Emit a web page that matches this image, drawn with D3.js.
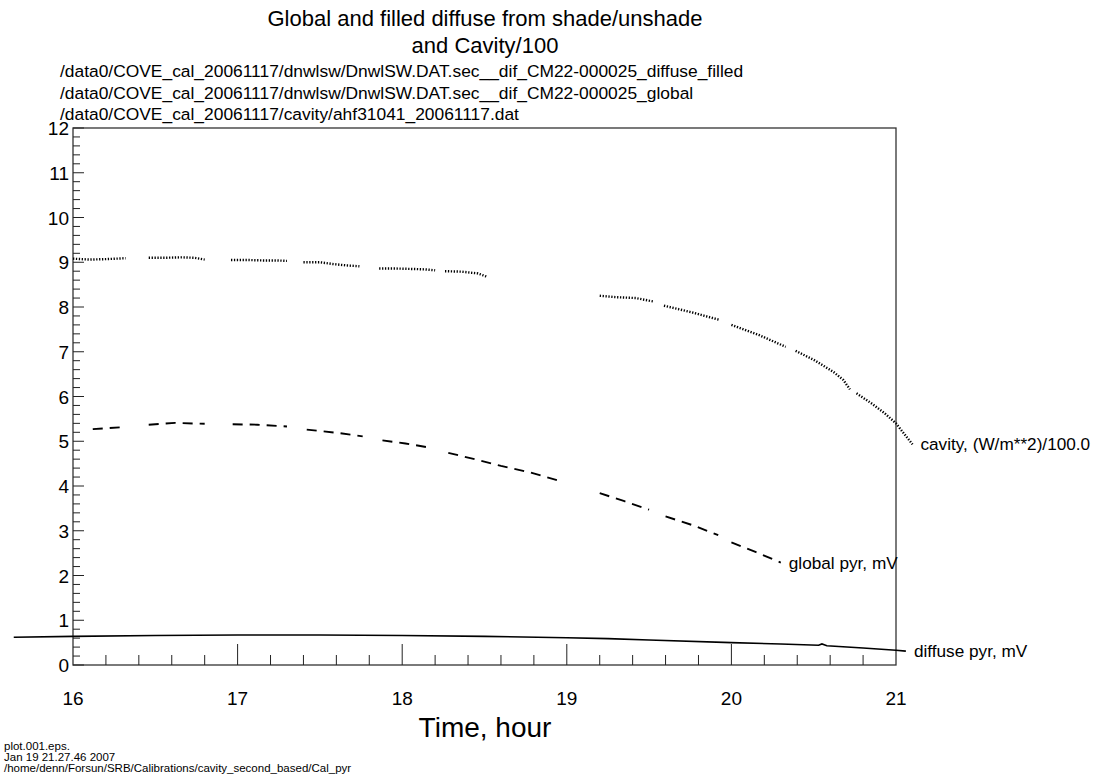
<!DOCTYPE html>
<html>
<head>
<meta charset="utf-8">
<script src="https://d3js.org/d3.v7.min.js"></script>
<style>
  body { margin: 0; background: #fff; }
  svg text { font-family: "Liberation Sans", Arial, Helvetica, sans-serif; fill: #000; }
</style>
</head>
<body>
<svg id="chart"></svg>
<script>
// hours and values, null marks a gap in the record
var cavityHours = [16.0, 16.1, 16.2, 16.32, null,
    16.46, 16.56, 16.66, 16.74, 16.8, null,
    16.96, 17.06, 17.16, 17.24, 17.3, null,
    17.4, 17.5, 17.58, 17.66, 17.74, null,
    17.86, 17.96, 18.06, 18.14, 18.2, null,
    18.26, 18.36, 18.46, 18.52, null,
    19.2, 19.3, 19.42, 19.53, null,
    19.59, 19.76, 19.93, null,
    20.0, 20.17, 20.33, null,
    20.39, 20.5, 20.62, 20.68, 20.72, null,
    20.76, 20.85, 20.93, 21.0, 21.1];
var cavityValues = [9.08, 9.06, 9.07, 9.09, null,
    9.1, 9.1, 9.11, 9.1, 9.06, null,
    9.05, 9.05, 9.04, 9.04, 9.03, null,
    9.0, 9.0, 8.96, 8.93, 8.91, null,
    8.86, 8.86, 8.85, 8.84, 8.82, null,
    8.8, 8.79, 8.75, 8.67, null,
    8.25, 8.22, 8.2, 8.12, null,
    8.03, 7.88, 7.71, null,
    7.6, 7.37, 7.11, null,
    7.02, 6.82, 6.55, 6.37, 6.16, null,
    6.07, 5.85, 5.63, 5.4, 4.93];

var globalHours = [16.12, 16.32, null,
    16.46, 16.62, 16.8, null,
    16.97, 17.12, 17.3, null,
    17.42, 17.6, 17.76, null,
    17.88, 18.02, 18.18, null,
    18.28, 18.44, 18.6, 18.78, 18.95, null,
    19.2, 19.35, 19.5, null,
    19.6, 19.76, 19.92, null,
    20.0, 20.15, 20.3];
var globalValues = [5.27, 5.32, null,
    5.37, 5.41, 5.39, null,
    5.38, 5.37, 5.33, null,
    5.26, 5.19, 5.11, null,
    5.02, 4.95, 4.85, null,
    4.74, 4.6, 4.45, 4.3, 4.12, null,
    3.84, 3.66, 3.47, null,
    3.32, 3.13, 2.9, null,
    2.74, 2.52, 2.29];

var diffuseHours = [15.64, 16.0, 16.5, 17.0, 17.5, 18.0, 18.5, 19.0, 19.25, 19.5,
    20.0, 20.3, 20.53, 20.55, 20.58, 20.8, 21.0, 21.06];
var diffuseValues = [0.62, 0.64, 0.66, 0.67, 0.67, 0.66, 0.64, 0.61, 0.59, 0.56,
    0.5, 0.47, 0.44, 0.47, 0.43, 0.38, 0.33, 0.31];

var xTicks = [16, 17, 18, 19, 20, 21];
var yTicks = [0, 1, 2, 3, 4, 5, 6, 7, 8, 9, 10, 11, 12];

var titleLines = ["Global and filled diffuse from shade/unshade", "and Cavity/100"];
var fileLines = ["/data0/COVE_cal_20061117/dnwlsw/DnwlSW.DAT.sec__dif_CM22-000025_diffuse_filled",
    "/data0/COVE_cal_20061117/dnwlsw/DnwlSW.DAT.sec__dif_CM22-000025_global",
    "/data0/COVE_cal_20061117/cavity/ahf31041_20061117.dat"];
var footLines = ["plot.001.eps.", "Jan 19 21.27.46 2007",
    "/home/denn/Forsun/SRB/Calibrations/cavity_second_based/Cal_pyr"];

var svgWidth = 1103;
var svgHeight = 782;
var plotLeft = 73, plotRight = 896, plotTop = 128, plotBottom = 665;

var svg = d3.select('#chart')
    .attr("width", svgWidth)
    .attr("height", svgHeight);

var x = d3.scaleLinear().domain([16, 21]).range([plotLeft, plotRight]);
var y = d3.scaleLinear().domain([0, 12]).range([plotBottom, plotTop]);

// titles
svg.selectAll("text.title")
    .data(titleLines)
    .enter()
    .append("text")
    .attr("class", "title")
    .attr("x", 485)
    .attr("y", function(d, i) { return 26 + i * 27; })
    .attr("text-anchor", "middle")
    .style("font-size", "22px")
    .text(function(d) { return d; });

svg.selectAll("text.file")
    .data(fileLines)
    .enter()
    .append("text")
    .attr("class", "file")
    .attr("x", 60)
    .attr("y", function(d, i) { return 77 + i * 21.5; })
    .style("font-size", "17.4px")
    .text(function(d) { return d; });

// frame
svg.append("rect")
    .attr("x", plotLeft)
    .attr("y", plotTop)
    .attr("width", plotRight - plotLeft)
    .attr("height", plotBottom - plotTop)
    .attr("fill", "none")
    .attr("stroke", "#333")
    .attr("stroke-width", 1.3);

// y ticks, pointing inward
var yMinor = d3.range(0, 12.001, 0.2);
svg.selectAll("line.ytick")
    .data(yMinor)
    .enter()
    .append("line")
    .attr("class", "ytick")
    .attr("x1", plotLeft)
    .attr("x2", function(d) {
        return Math.abs(d - Math.round(d)) < 0.01 ? plotLeft + 11 : plotLeft + 7;
    })
    .attr("y1", function(d) { return y(d); })
    .attr("y2", function(d) { return y(d); })
    .attr("stroke", "#222")
    .attr("stroke-width", 1);

svg.selectAll("text.ylab")
    .data(yTicks)
    .enter()
    .append("text")
    .attr("class", "ylab")
    .attr("x", plotLeft - 4)
    .attr("y", function(d) { return y(d) + 7; })
    .attr("text-anchor", "end")
    .style("font-size", "19px")
    .text(function(d) { return d; });

// x ticks, pointing up from the bottom
var xMinor = d3.range(16.2, 20.9, 0.2);
svg.selectAll("line.xtick")
    .data(xMinor)
    .enter()
    .append("line")
    .attr("class", "xtick")
    .attr("x1", function(d) { return x(d); })
    .attr("x2", function(d) { return x(d); })
    .attr("y1", plotBottom)
    .attr("y2", function(d) {
        return Math.abs(d - Math.round(d)) < 0.01 ? plotBottom - 21 : plotBottom - 10;
    })
    .attr("stroke", "#222")
    .attr("stroke-width", 1);

svg.selectAll("text.xlab")
    .data(xTicks)
    .enter()
    .append("text")
    .attr("class", "xlab")
    .attr("x", function(d) { return x(d); })
    .attr("y", 705)
    .attr("text-anchor", "middle")
    .style("font-size", "19px")
    .text(function(d) { return d; });

svg.append("text")
    .attr("x", 485)
    .attr("y", 737)
    .attr("text-anchor", "middle")
    .style("font-size", "28px")
    .text("Time, hour");

svg.selectAll("text.foot")
    .data(footLines)
    .enter()
    .append("text")
    .attr("class", "foot")
    .attr("x", 4)
    .attr("y", function(d, i) { return 750 + i * 11; })
    .style("font-size", "11.5px")
    .text(function(d) { return d; });

function toPoints(hours, values) {
    return hours.map(function(h, i) { return [h, values[i]]; });
}

var line = d3.line()
    .defined(function(d) { return d[0] !== null && d[1] !== null; })
    .x(function(d) { return x(d[0]); })
    .y(function(d) { return y(d[1]); });

svg.append("path")
    .datum(toPoints(cavityHours, cavityValues))
    .attr("d", line)
    .attr("fill", "none")
    .attr("stroke", "#000")
    .attr("stroke-width", 2.4)
    .attr("stroke-dasharray", "1.3,1.6");

svg.append("path")
    .datum(toPoints(globalHours, globalValues))
    .attr("d", line)
    .attr("fill", "none")
    .attr("stroke", "#000")
    .attr("stroke-width", 1.9)
    .attr("stroke-dasharray", "10,7");

svg.append("path")
    .datum(toPoints(diffuseHours, diffuseValues))
    .attr("d", line)
    .attr("fill", "none")
    .attr("stroke", "#000")
    .attr("stroke-width", 1.6);

// series labels at the end of each line
var labels = [
    {h: cavityHours[cavityHours.length - 1], v: cavityValues[cavityValues.length - 1], t: "cavity, (W/m**2)/100.0"},
    {h: globalHours[globalHours.length - 1], v: globalValues[globalValues.length - 1], t: "global pyr, mV"},
    {h: diffuseHours[diffuseHours.length - 1], v: diffuseValues[diffuseValues.length - 1], t: "diffuse pyr, mV"}
];
svg.selectAll("text.series")
    .data(labels)
    .enter()
    .append("text")
    .attr("class", "series")
    .attr("x", function(d) { return x(d.h) + 8; })
    .attr("y", function(d) { return y(d.v) + 6; })
    .style("font-size", "17.2px")
    .text(function(d) { return d.t; });
</script>
</body>
</html>
